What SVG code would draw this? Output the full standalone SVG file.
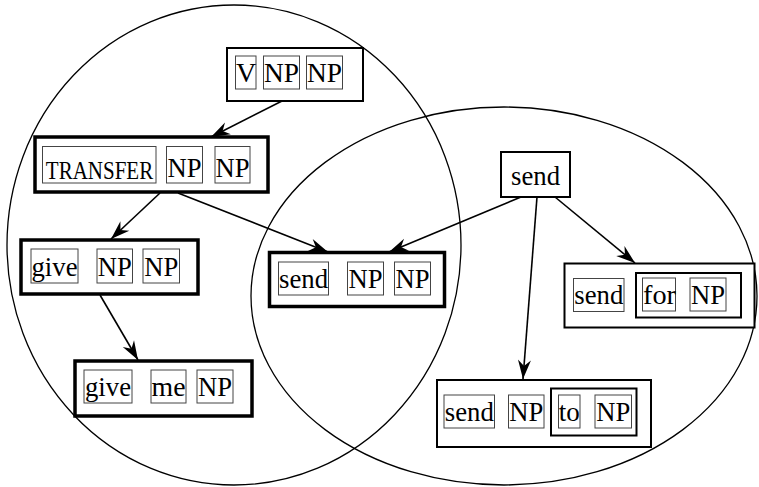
<svg xmlns="http://www.w3.org/2000/svg" width="759" height="487" viewBox="0 0 759 487">
<style>
.bg{fill:#fff}
.ell{fill:none;stroke:#000;stroke-width:1.3}
.outer{fill:#fff;stroke:#000;stroke-width:2}
.thick{fill:#fff;stroke:#000;stroke-width:3.5}
.grp{fill:none;stroke:#000;stroke-width:2}
.inner{fill:none;stroke:#444;stroke-width:1}
.t{font-family:"Liberation Serif","Times New Roman",serif;font-size:28px;fill:#000;text-anchor:middle}
.sc{font-family:"Liberation Serif","Times New Roman",serif;font-size:21px;fill:#000;text-anchor:middle}
.edge{fill:none;stroke:#000;stroke-width:1.6}
</style>
<defs>
<marker id="arr" markerUnits="userSpaceOnUse" markerWidth="22" markerHeight="16" viewBox="-20 -8 22 16" refX="0" refY="0" orient="auto">
<path d="M0,0 L-19,-6.5 L-13,0 L-19,6.5 Z" fill="#000"/>
</marker>
</defs>
<rect class="bg" x="0" y="0" width="759" height="487"/>
<g id="circles">
<ellipse class="ell" cx="234" cy="245" rx="227" ry="240"/>
<ellipse class="ell" cx="504" cy="296" rx="253" ry="189"/>
</g>
<g id="connectors">
<line class="edge" x1="282" y1="101" x2="211" y2="137" marker-end="url(#arr)"/>
<line class="edge" x1="160" y1="193" x2="111" y2="239" marker-end="url(#arr)"/>
<line class="edge" x1="178" y1="193" x2="328" y2="252" marker-end="url(#arr)"/>
<line class="edge" x1="100" y1="295" x2="138" y2="360" marker-end="url(#arr)"/>
<line class="edge" x1="521" y1="197" x2="389" y2="252" marker-end="url(#arr)"/>
<line class="edge" x1="555" y1="197" x2="635" y2="263" marker-end="url(#arr)"/>
<line class="edge" x1="537" y1="197" x2="523" y2="379" marker-end="url(#arr)"/>
</g>
<g id="node-v-np-np">
<rect class="outer" x="227" y="48" width="136" height="53"/>
<rect class="inner" x="235.5" y="56" width="20.5" height="33"/>
<rect class="inner" x="263.5" y="56" width="36" height="33"/>
<rect class="inner" x="306.5" y="56" width="36" height="33"/>
<text class="t" x="246" y="82">V</text>
<text class="t" x="281.5" y="82" textLength="35" lengthAdjust="spacingAndGlyphs">NP</text>
<text class="t" x="324.5" y="82" textLength="35" lengthAdjust="spacingAndGlyphs">NP</text>
</g>
<g id="node-transfer">
<rect class="thick" x="35" y="137" width="233" height="55"/>
<rect class="inner" x="42.5" y="146.5" width="113.5" height="36.5"/>
<rect class="inner" x="166.5" y="146.5" width="36" height="36.5"/>
<rect class="inner" x="215" y="146.5" width="35" height="36.5"/>
<text class="sc" transform="translate(99.5,178.5) scale(1,1.2)" x="0" y="0">TRANSFER</text>
<text class="t" x="184.5" y="177" textLength="34" lengthAdjust="spacingAndGlyphs">NP</text>
<text class="t" x="232.5" y="177" textLength="34" lengthAdjust="spacingAndGlyphs">NP</text>
</g>
<g id="node-give-np-np">
<rect class="thick" x="21" y="240" width="177" height="54"/>
<rect class="inner" x="31" y="249" width="47" height="34"/>
<rect class="inner" x="97" y="249" width="35.5" height="34"/>
<rect class="inner" x="143" y="249" width="36.5" height="34"/>
<text class="t" x="54.5" y="276" textLength="46" lengthAdjust="spacingAndGlyphs">give</text>
<text class="t" x="114.75" y="276" textLength="34" lengthAdjust="spacingAndGlyphs">NP</text>
<text class="t" x="161.25" y="276" textLength="34" lengthAdjust="spacingAndGlyphs">NP</text>
</g>
<g id="node-give-me-np">
<rect class="thick" x="75" y="361" width="177" height="55"/>
<rect class="inner" x="84" y="370" width="48" height="33"/>
<rect class="inner" x="151" y="370" width="35" height="33"/>
<rect class="inner" x="197" y="370" width="36" height="33"/>
<text class="t" x="108" y="396" textLength="46" lengthAdjust="spacingAndGlyphs">give</text>
<text class="t" x="168.5" y="396" textLength="34" lengthAdjust="spacingAndGlyphs">me</text>
<text class="t" x="215" y="396" textLength="34" lengthAdjust="spacingAndGlyphs">NP</text>
</g>
<g id="node-send-np-np">
<rect class="thick" x="269.5" y="252.5" width="175" height="54"/>
<rect class="inner" x="278.5" y="262" width="50" height="33"/>
<rect class="inner" x="347.5" y="262" width="36" height="33"/>
<rect class="inner" x="394.5" y="262" width="36" height="33"/>
<text class="t" x="303.5" y="288" textLength="49" lengthAdjust="spacingAndGlyphs">send</text>
<text class="t" x="365.5" y="288" textLength="34" lengthAdjust="spacingAndGlyphs">NP</text>
<text class="t" x="412.5" y="288" textLength="34" lengthAdjust="spacingAndGlyphs">NP</text>
</g>
<g id="node-send">
<rect class="outer" x="501" y="152" width="69" height="45"/>
<text class="t" x="535.5" y="185" textLength="49" lengthAdjust="spacingAndGlyphs">send</text>
</g>
<g id="node-send-for-np">
<rect class="outer" x="564.5" y="263.5" width="190" height="64"/>
<rect class="grp" x="636" y="273" width="105" height="44.5"/>
<rect class="inner" x="573.5" y="278.5" width="50.5" height="33"/>
<rect class="inner" x="642.5" y="278" width="33" height="33"/>
<rect class="inner" x="690" y="278" width="36" height="33"/>
<text class="t" x="598.75" y="304" textLength="49" lengthAdjust="spacingAndGlyphs">send</text>
<text class="t" x="659.5" y="304" textLength="33" lengthAdjust="spacingAndGlyphs">for</text>
<text class="t" x="708" y="304" textLength="34" lengthAdjust="spacingAndGlyphs">NP</text>
</g>
<g id="node-send-np-to-np">
<rect class="outer" x="437" y="380" width="214" height="67"/>
<rect class="grp" x="551" y="388.5" width="85.5" height="47"/>
<rect class="inner" x="444" y="395" width="50.5" height="33"/>
<rect class="inner" x="508.5" y="395" width="35.5" height="33"/>
<rect class="inner" x="558.5" y="395" width="21.5" height="33"/>
<rect class="inner" x="595" y="395" width="36.5" height="33"/>
<text class="t" x="469.25" y="421" textLength="49" lengthAdjust="spacingAndGlyphs">send</text>
<text class="t" x="526.25" y="421" textLength="34" lengthAdjust="spacingAndGlyphs">NP</text>
<text class="t" x="569.25" y="421" textLength="21" lengthAdjust="spacingAndGlyphs">to</text>
<text class="t" x="613.25" y="421" textLength="34" lengthAdjust="spacingAndGlyphs">NP</text>
</g>
</svg>
